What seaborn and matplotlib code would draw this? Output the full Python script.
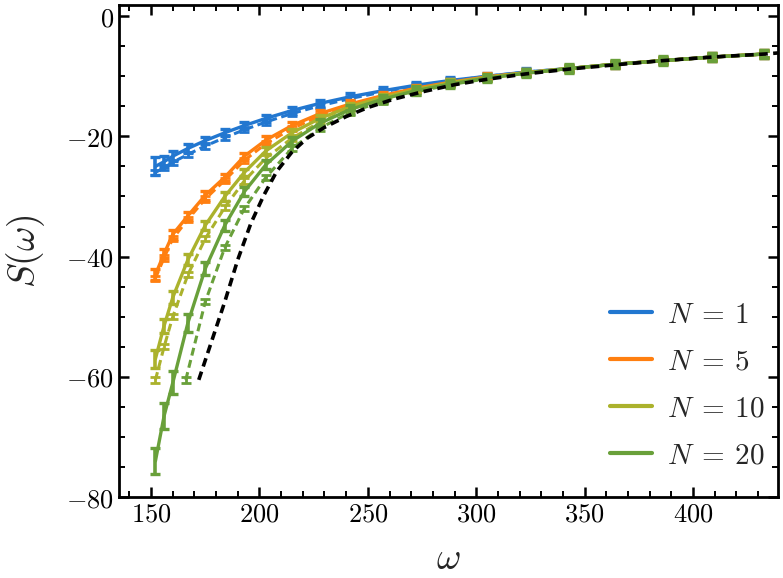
import numpy as np
import pandas as pd
import matplotlib
matplotlib.use('Agg')
import matplotlib.pyplot as plt
from matplotlib.ticker import MultipleLocator, FuncFormatter
from matplotlib.lines import Line2D
import seaborn as sns

# frequencies of the simulated points
omega = [152, 156, 160, 167, 175, 184, 193, 203, 215, 228, 242, 257, 272, 288, 305, 323, 343, 364, 386, 409, 433]

# solid curves (with error bars)
s_n1 = [-25.0, -24.2, -23.3, -22.0, -20.7, -19.4, -18.2, -17.0, -15.7, -14.5, -13.4, -12.4, -11.5, -10.7, -10.0, -9.3, -8.7, -8.0, -7.4, -6.8, -6.3]
s_n5 = [-43.0, -39.5, -36.3, -33.2, -29.8, -26.8, -23.3, -20.6, -18.2, -16.2, -14.6, -13.2, -12.0, -11.0, -10.1, -9.4, -8.7, -8.0, -7.4, -6.8, -6.3]
s_n10 = [-57.0, -51.5, -46.8, -40.5, -34.8, -30.0, -26.0, -22.4, -19.4, -17.0, -15.0, -13.5, -12.2, -11.1, -10.2, -9.4, -8.7, -8.0, -7.4, -6.8, -6.3]
s_n20 = [-74.0, -66.5, -61.0, -51.0, -42.0, -34.8, -29.2, -24.7, -20.8, -17.8, -15.5, -13.8, -12.4, -11.3, -10.3, -9.5, -8.7, -8.0, -7.4, -6.8, -6.3]

err_n1 = [1.5, 0.9, 0.8, 0.7, 0.6, 0.6, 0.6, 0.6, 0.6, 0.6, 0.6, 0.6, 0.6, 0.6, 0.6, 0.6, 0.6, 0.6, 0.6, 0.6, 0.6]
err_n5 = [0.9, 0.8, 0.8, 0.7, 0.7, 0.6, 0.6, 0.6, 0.6, 0.6, 0.6, 0.6, 0.6, 0.6, 0.6, 0.6, 0.6, 0.6, 0.6, 0.6, 0.6]
err_n10 = [1.5, 1.2, 1.0, 0.9, 0.8, 0.7, 0.6, 0.6, 0.6, 0.6, 0.6, 0.6, 0.6, 0.6, 0.6, 0.6, 0.6, 0.6, 0.6, 0.6, 0.6]
err_n20 = [2.1, 2.1, 1.9, 1.5, 1.1, 0.9, 0.8, 0.7, 0.7, 0.7, 0.7, 0.7, 0.7, 0.7, 0.7, 0.7, 0.7, 0.7, 0.7, 0.7, 0.7]

# dashed curves
s_n1_dash = [-26.0, -25.2, -24.3, -23.0, -21.6, -20.2, -18.9, -17.6, -16.2, -14.9, -13.7, -12.6, -11.6, -10.8, -10.0, -9.3, -8.7, -8.0, -7.4, -6.8, -6.3]
s_n5_dash = [-43.6, -40.2, -37.0, -33.8, -30.4, -27.3, -24.0, -21.2, -18.7, -16.6, -14.9, -13.4, -12.1, -11.1, -10.2, -9.4, -8.7, -8.0, -7.4, -6.8, -6.3]
s_n10_dash = [-60.5, -55.0, -50.0, -43.0, -37.0, -31.8, -27.4, -23.6, -20.3, -17.6, -15.4, -13.8, -12.4, -11.2, -10.3, -9.5, -8.7, -8.0, -7.4, -6.8, -6.3]
omega_n20_dash = [166, 175, 184, 193, 203, 215, 228, 242, 257, 272, 288, 305, 323, 343, 364, 386, 409, 433]
s_n20_dash = [-60.5, -47.5, -38.5, -32.0, -26.8, -22.0, -18.6, -16.0, -14.1, -12.6, -11.4, -10.4, -9.5, -8.7, -8.0, -7.4, -6.8, -6.3]

# black dashed limit curve
omega_inf = [172, 178, 184, 190, 196, 202, 208, 215, 222, 230, 240, 250, 262, 275, 290, 305, 323, 343, 364, 386, 409, 433, 440]
s_inf = [-60.5, -54.0, -47.5, -40.5, -34.5, -29.8, -25.8, -22.6, -20.3, -18.5, -16.7, -15.2, -13.8, -12.6, -11.4, -10.5, -9.6, -8.8, -8.1, -7.4, -6.8, -6.3, -6.1]

labels = [r'$N\:=\:1$', r'$N\:=\:5$', r'$N\:=\:10$', r'$N\:=\:20$']
colors = ['#2277d0', '#ff7f10', '#abb22c', '#69a03a']

sns.set_theme(style='ticks')
plt.rcParams['mathtext.fontset'] = 'cm'
plt.rcParams['font.family'] = ['DejaVu Serif']

fig = plt.figure(figsize=(7.83, 5.78), dpi=100)
ax = fig.add_axes([0.152, 0.140, 0.8415, 0.8513])

solid = [(omega, s_n1, err_n1), (omega, s_n5, err_n5), (omega, s_n10, err_n10), (omega, s_n20, err_n20)]
dashed = [(omega, s_n1_dash), (omega, s_n5_dash), (omega, s_n10_dash), (omega_n20_dash, s_n20_dash)]

for i in range(4):
    c = colors[i]
    xd, yd = dashed[i]
    sns.lineplot(x=xd, y=yd, color=c, linewidth=2.2, ax=ax, legend=False)
    ax.lines[-1].set_dashes((2.6, 1.5))
    ax.errorbar(xd, yd, yerr=0.45, fmt='none', ecolor=c, elinewidth=2.0, capsize=3.5, capthick=2.0)
    xs, ys, es = solid[i]
    sns.lineplot(x=xs, y=ys, color=c, linewidth=2.4, ax=ax, legend=False)
    ax.errorbar(xs, ys, yerr=es, fmt='none', ecolor=c, elinewidth=2.6, capsize=3.8, capthick=2.4)

sns.lineplot(x=omega_inf, y=s_inf, color='black', linewidth=2.6, ax=ax, legend=False)
ax.lines[-1].set_dashes((2.4, 1.5))

ax.set_xlim(135.2, 439.2)
ax.set_ylim(-80, 1.85)

ax.xaxis.set_major_locator(MultipleLocator(50))
ax.xaxis.set_minor_locator(MultipleLocator(10))
ax.yaxis.set_major_locator(MultipleLocator(20))
ax.yaxis.set_minor_locator(MultipleLocator(5))
fmt = FuncFormatter(lambda v, p: '$%d$' % int(round(v)))
ax.xaxis.set_major_formatter(fmt)
ax.yaxis.set_major_formatter(fmt)

ax.tick_params(which='both', direction='in', top=True, right=True, colors='black', labelsize=19)
ax.tick_params(which='major', length=7, width=1.8)
ax.tick_params(which='minor', length=4, width=1.4)
for sp in ax.spines.values():
    sp.set_linewidth(2.0)
    sp.set_color('black')

ax.set_xlabel(r'$\omega$', fontsize=27, labelpad=10)
ax.set_ylabel(r'$S(\omega)$', fontsize=27, labelpad=14)

handles = [Line2D([], [], color=colors[i], linewidth=3) for i in range(4)]
ax.legend(handles, labels, loc='center left', bbox_to_anchor=(0.745, 0.2276), frameon=False,
          fontsize=21, handlelength=1.45, handletextpad=0.5, labelspacing=0.65,
          borderpad=0, borderaxespad=0)

fig.savefig('out.png', dpi=100, facecolor='white')
